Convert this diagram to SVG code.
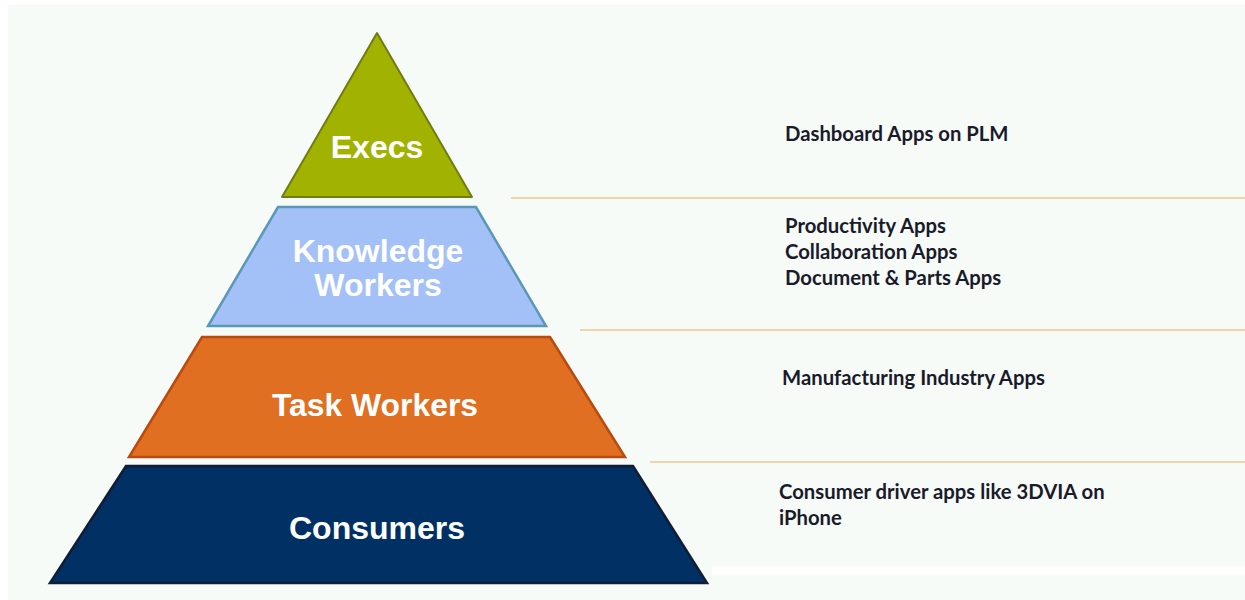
<svg xmlns="http://www.w3.org/2000/svg" width="1245" height="600" viewBox="0 0 1245 600">
<style>
.lbl{font-family:"Liberation Sans",Arial,sans-serif;font-weight:bold;font-size:32px;fill:#ffffff;text-anchor:middle}
.desc{font-family:Lato,"Liberation Sans",sans-serif;font-weight:bold;font-size:20.3px;fill:#1a1a2a}
.sep{stroke:#ebc792;stroke-width:1.6;fill:none}
</style>
<rect x="0" y="0" width="1245" height="600" fill="#ffffff"/>
<rect x="8" y="5" width="1237" height="595" fill="#f6fbf8"/>
<rect x="712" y="566" width="533" height="9" fill="#ffffff"/>
<g id="connectors">
<line class="sep" x1="511" y1="198" x2="1245" y2="198"/>
<line class="sep" x1="580" y1="330" x2="1245" y2="330"/>
<line class="sep" x1="650" y1="462" x2="1245" y2="462"/>
</g>
<g id="execs">
<polygon points="377,33 472,197 282,197" fill="#a1b300" stroke="#6f7d12" stroke-width="2" stroke-linejoin="round"/>
<text class="lbl" x="377" y="157.5">Execs</text>
</g>
<g id="knowledge-workers">
<polygon points="278,207 476,207 546,326 208,326" fill="#a3c1f6" stroke="#5a97b8" stroke-width="2.5"/>
<text class="lbl" x="378" y="261.5">Knowledge</text>
<text class="lbl" x="378" y="296">Workers</text>
</g>
<g id="task-workers">
<polygon points="202,337 550,337 625,457 129,457" fill="#e06f22" stroke="#b94a10" stroke-width="2.5"/>
<text class="lbl" x="375" y="416" textLength="206" lengthAdjust="spacingAndGlyphs">Task Workers</text>
</g>
<g id="consumers">
<polygon points="126,466 633,466 707,583 50,583" fill="#013064" stroke="#111d35" stroke-width="2.5"/>
<text class="lbl" x="377" y="539">Consumers</text>
</g>
<g id="descriptions">
<text class="desc" x="785" y="141">Dashboard Apps on PLM</text>
<text class="desc" x="785" y="233">Productivity Apps</text>
<text class="desc" x="785" y="259">Collaboration Apps</text>
<text class="desc" x="785" y="285">Document &amp; Parts Apps</text>
<text class="desc" x="782" y="385">Manufacturing Industry Apps</text>
<text class="desc" x="779" y="499">Consumer driver apps like 3DVIA on</text>
<text class="desc" x="779" y="525">iPhone</text>
</g>
</svg>
